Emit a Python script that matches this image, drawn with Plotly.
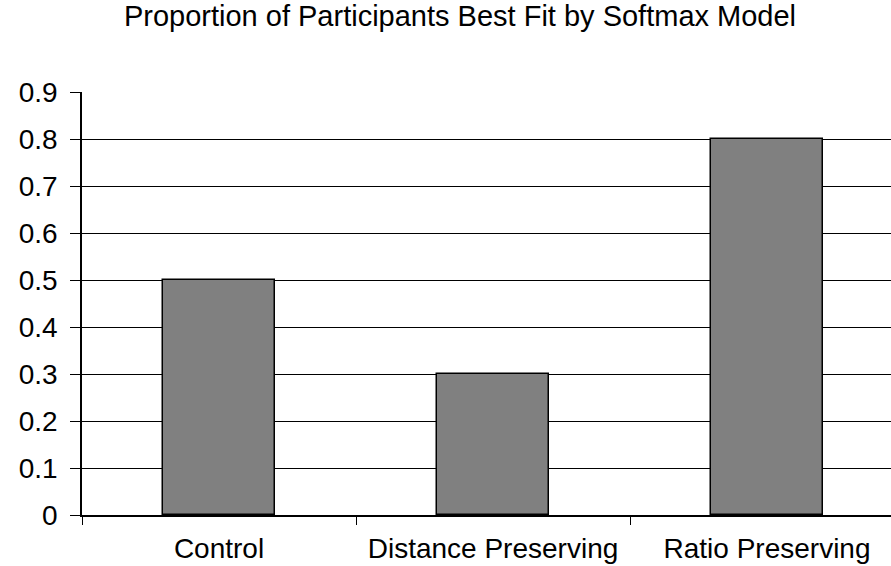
import plotly.graph_objects as go

categories = ["Control", "Distance Preserving", "Ratio Preserving"]
proportions = [0.5, 0.3, 0.8]
y_ticks = [0, 0.1, 0.2, 0.3, 0.4, 0.5, 0.6, 0.7, 0.8, 0.9]
y_tick_labels = ["0", "0.1", "0.2", "0.3", "0.4", "0.5", "0.6", "0.7", "0.8", "0.9"]
title_text = "Proportion of Participants Best Fit by Softmax Model"

W, H = 891, 566
L, R, T, B = 82, 0, 92, 51
cat_px = 274.0
plot_w = W - L - R

fig = go.Figure(go.Bar(
    x=categories,
    y=proportions,
    width=0.409,
    marker=dict(color="#808080", line=dict(color="#000000", width=1.5)),
))

fig.update_layout(
    width=W, height=H,
    margin=dict(l=L, r=R, t=T, b=B, pad=0),
    paper_bgcolor="white",
    plot_bgcolor="white",
    showlegend=False,
    font=dict(family="Liberation Sans, Arial, sans-serif", color="#000000"),
    title=dict(
        text=title_text,
        font=dict(size=29, color="#000000"),
        x=460 / W, xanchor="center", xref="container",
        y=1 - 6 / H, yanchor="top", yref="container",
    ),
    bargap=0,
)

fig.update_xaxes(
    type="category",
    range=[-0.5, -0.5 + plot_w / cat_px],
    showline=True, linecolor="#000000", linewidth=1.5,
    ticks="outside", tickson="boundaries", ticklen=8, tickwidth=1, tickcolor="#000000",
    ticklabelstandoff=8,
    tickfont=dict(size=28, color="#000000"),
    showgrid=False, zeroline=False,
)

fig.update_yaxes(
    range=[0, 0.9],
    tickmode="array", tickvals=y_ticks, ticktext=y_tick_labels,
    showline=True, linecolor="#000000", linewidth=1.5,
    ticks="outside", ticklen=10, tickwidth=1, tickcolor="#000000",
    ticklabelstandoff=7,
    tickfont=dict(size=28, color="#000000"),
    showgrid=True, gridcolor="#000000", gridwidth=1,
    zeroline=False,
)

fig.write_html("out.html")
